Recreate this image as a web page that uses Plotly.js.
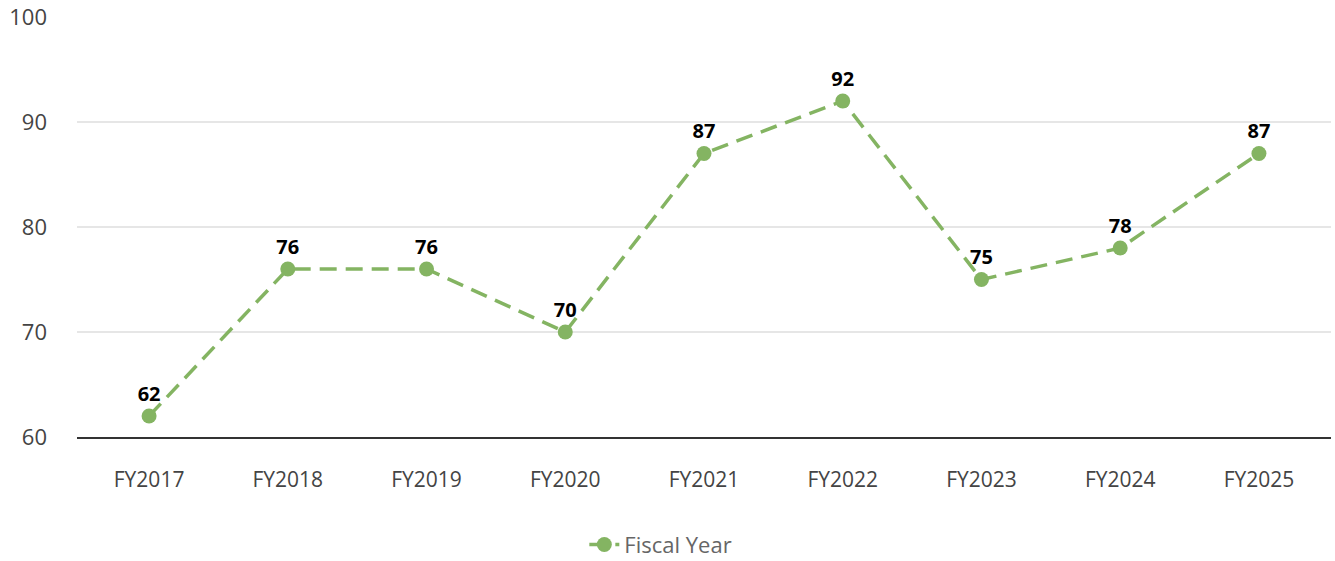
<!DOCTYPE html>
<html>
<head>
<meta charset="utf-8">
<script src="https://cdn.plot.ly/plotly-3.0.1.min.js"></script>
<style>html,body{margin:0;padding:0;background:#fff;}#chart{width:1335px;height:561px;}</style>
</head>
<body>
<div id="chart"></div>
<script>
const categories = ["FY2017","FY2018","FY2019","FY2020","FY2021","FY2022","FY2023","FY2024","FY2025"];
const values = [62, 76, 76, 70, 87, 92, 75, 78, 87];
const seriesName = "Fiscal Year";
const yTicks = [60, 70, 80, 90, 100];

const trace = {
  x: categories,
  y: values,
  name: seriesName,
  type: "scatter",
  mode: "lines+markers+text",
  line: {color: "#84b462", width: 3.5, dash: "17px,9px"},
  marker: {color: "#84b462", size: 15},
  text: values.map(String),
  textposition: "top center",
  textfont: {family: "Open Sans, sans-serif", size: 20, color: "#000", weight: 700},
  cliponaxis: false
};

const layout = {
  width: 1335, height: 561,
  margin: {l: 77, r: 4, t: 17, b: 124},
  paper_bgcolor: "#fff", plot_bgcolor: "#fff",
  font: {family: "Open Sans, sans-serif", color: "#444"},
  showlegend: true,
  legend: {orientation: "h", xref: "container", x: 0.495, xanchor: "center",
           yref: "container", y: 0.029, yanchor: "middle",
           font: {size: 22, color: "#666"}},
  xaxis: {type: "category", showgrid: false, zeroline: false, showline: true,
          linecolor: "#333", linewidth: 1.5, ticks: "", ticklabelstandoff: 23,
          automargin: false, tickfont: {size: 21, color: "#444"}},
  yaxis: {range: [60, 100], tickvals: yTicks, showgrid: true, gridcolor: "#e6e6e6",
          gridwidth: 1.5, zeroline: false, showline: false, ticks: "",
          automargin: false, ticklabelstandoff: 29, tickfont: {size: 22, color: "#444"}}
};

Plotly.newPlot("chart", [trace], layout, {displayModeBar: false});
</script>
</body>
</html>
